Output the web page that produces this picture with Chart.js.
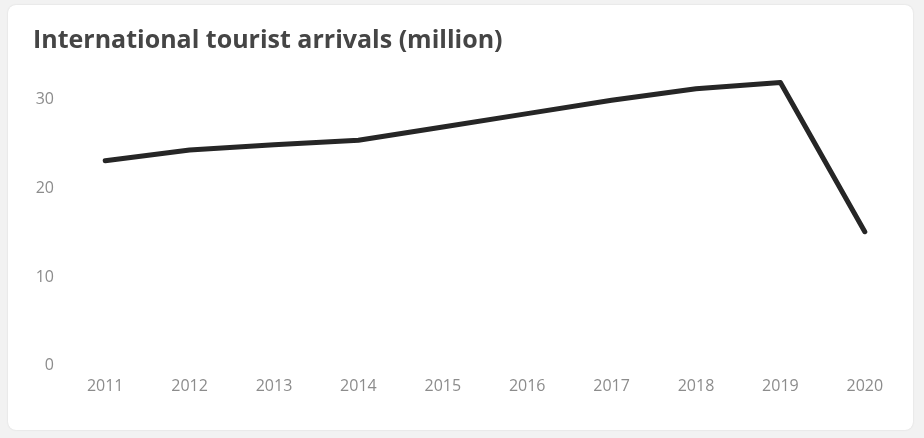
<!DOCTYPE html>
<html>
<head>
<meta charset="utf-8">
<script src="https://cdn.jsdelivr.net/npm/chart.js@4.4.0/dist/chart.umd.min.js"></script>
<style>
  html, body { margin: 0; padding: 0; background: #f2f2f2; }
  body { width: 924px; height: 438px; position: relative; overflow: hidden; }
  .card {
    position: absolute; left: 8px; top: 5px; width: 905px; height: 425px;
    background: #fff; border-radius: 8px;
    box-shadow: 0 0 2px rgba(0,0,0,0.12);
  }
  canvas { display: block; }
</style>
</head>
<body>
<div class="card"><canvas id="arrivals" width="905" height="425"></canvas></div>
<script>
const years = ["2011", "2012", "2013", "2014", "2015", "2016", "2017", "2018", "2019", "2020"];
const arrivals = [23.1, 24.3, 24.9, 25.4, 26.9, 28.4, 29.9, 31.2, 31.9, 15.1];
const yTicks = [0, 10, 20, 30];

const tickFont = { family: "'Open Sans', sans-serif", size: 16 };
const ctx = document.getElementById("arrivals").getContext("2d");

new Chart(ctx, {
    type: "line",
    data: {
        labels: years,
        datasets: [
            {
                label: "International tourist arrivals",
                data: arrivals,
                borderColor: "#262626",
                borderWidth: 5,
                borderCapStyle: "round",
                borderJoinStyle: "round",
                pointRadius: 0,
                tension: 0,
                fill: false,
            },
        ],
    },
    options: {
        responsive: false,
        animation: false,
        layout: { padding: { left: 25, right: 6, top: 10, bottom: 23 } },
        plugins: {
            legend: { display: false },
            tooltip: { enabled: false },
            title: {
                display: true,
                text: "International tourist arrivals (million)",
                align: "start",
                color: "#454545",
                font: { family: "'Open Sans', sans-serif", size: 25, weight: "bold", lineHeight: 1 },
                padding: { top: 13, bottom: 2 },
            },
        },
        scales: {
            x: {
                offset: true,
                grid: { display: false, drawTicks: false },
                border: { display: false },
                ticks: { color: "#8c8c8c", padding: 11, maxRotation: 0, font: tickFont },
            },
            y: {
                min: 0,
                max: 35,
                grid: { display: false, drawTicks: false },
                border: { display: false },
                afterBuildTicks: (scale) => {
                    scale.ticks = yTicks.map((v) => ({ value: v }));
                },
                afterFit: (scale) => {
                    scale.width = 30;
                },
                ticks: { color: "#8c8c8c", padding: 9, font: tickFont },
            },
        },
    },
});
</script>
</body>
</html>
